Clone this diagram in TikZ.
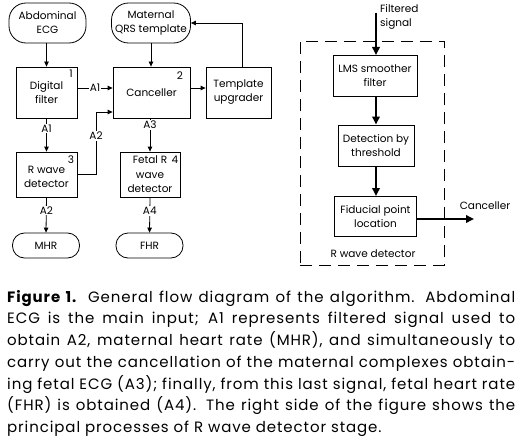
\documentclass[tikz,border=0pt]{standalone}
\usepackage{fontspec}
\setmainfont{Poppins}
\usetikzlibrary{arrows.meta,positioning}
\begin{document}
\begin{tikzpicture}[x=1pt,y=-1pt,
  every node/.style={font=\fontsize{10.5}{14}\selectfont},
  box/.style={draw,line width=0.8pt,align=center,inner sep=0pt},
  term/.style={draw,line width=0.8pt,align=center,inner sep=0pt},
  rbox/.style={draw,line width=1pt,align=center,inner sep=0pt},
  arr/.style={line width=0.8pt,-{Triangle[length=5pt,width=4.5pt]}},
  tarr/.style={line width=1.8pt,-{Triangle[length=8pt,width=7.5pt]}},
  lbl/.style={fill=white,inner sep=1pt},
  num/.style={inner sep=0pt}]
\useasboundingbox (0,0) rectangle (522,444);
% left diagram
\node[term,rounded corners=17pt,minimum width=77pt,minimum height=40pt] (abd) at (47.5,23) {Abdominal\\ECG};
\node[term,rounded corners=17pt,minimum width=79pt,minimum height=40pt] (qrs) at (151,23) {Maternal\\QRS template};
\node[box,minimum width=61pt,minimum height=51pt] (df) at (46.5,92.5) {Digital\\filter};
\node[box,minimum width=77pt,minimum height=51pt] (canc) at (151.5,92.5) {Canceller};
\node[box,minimum width=65pt,minimum height=51pt] (tu) at (238.5,92.5) {Template\\upgrader};
\node[box,minimum width=61pt,minimum height=45pt,label={[align=center,inner sep=0pt,yshift=-2pt]center:{R wave\\detector}}] (rwd) at (46.5,174.5) {};
\node[box,minimum width=60pt,minimum height=45pt,font=\fontsize{10.5}{14.5}\selectfont] (frwd) at (150,174.5) {Fetal R\\wave\\detector};
\node[term,rounded corners=12pt,minimum width=67pt,minimum height=25pt] (mhr) at (46,245.5) {MHR};
\node[term,rounded corners=12pt,minimum width=67pt,minimum height=25pt] (fhr) at (149.5,245.5) {FHR};
\node[num] (n1) at (71,74) {1};
\node[num] (n2) at (180,75.5) {2};
\node[num] (n3) at (71,160) {3};
\node[num] (n4) at (175,159.5) {4};
\draw[arr] (df.north |- abd.south) -- (df.north);
\draw[arr] (qrs.south) -- (qrs.south |- canc.north);
\draw[arr] ([yshift=4.5pt]df.east) -- node[lbl]{A1} ([yshift=4.5pt]canc.west);
\draw[arr] ([yshift=4.5pt]canc.east) -- ([yshift=4.5pt]tu.west);
\draw[arr] ([xshift=3.5pt]tu.north) |- (qrs.east);
\draw[arr] (df.south) -- node[lbl,pos=0.3]{A1} (rwd.north);
\coordinate (a2b) at (96,174.5);
\coordinate (a2t) at (96,112);
\draw[arr] (rwd.east) -- (a2b) -- node[lbl,pos=0.62]{A2} (a2t) -- (a2t -| canc.west);
\draw[arr] (frwd.north |- canc.south) -- node[lbl,pos=0.2]{A3} (frwd.north);
\draw[arr] (rwd.south) -- node[lbl,pos=0.37]{A2} (mhr.north);
\draw[arr] (frwd.south) -- node[lbl,pos=0.39]{A4} (fhr.north);
% right diagram
\node[draw,dash pattern=on 12pt off 7pt,line width=0.8pt,minimum width=144pt,minimum height=224pt,inner sep=0pt] (frame) at (372,153) {};
\node[align=left,anchor=west,inner sep=0pt] (fs) at (380,16.5) {Filtered\\signal};
\coordinate (fsin) at (376,13);
\node[rbox,minimum width=84pt,minimum height=41pt] (lms) at (375,76) {LMS smoother\\filter};
\node[rbox,minimum width=76pt,minimum height=41pt] (det) at (376,145.5) {Detection by\\threshold};
\node[rbox,minimum width=82pt,minimum height=40pt] (fid) at (375.5,216.5) {Fiducial point\\location};
\coordinate (cout) at (474,219);
\node (canctxt) at (485,206) {Canceller};
\node (rwdtxt) at (373,254) {R wave detector};
\draw[tarr] (fsin) -- (fsin |- lms.north);
\draw[tarr] (fsin |- lms.south) -- (fsin |- det.north);
\draw[tarr] (fsin |- det.south) -- (fsin |- fid.north);
\draw[tarr] (fid.east |- cout) -- (cout);
% caption
\node[anchor=north west,inner sep=0pt,align=left,font={\fontsize{15}{21.7}\selectfont\addfontfeature{LetterSpace=6}}] (cap) at (7,290) {%
\makebox[508pt][s]{\textbf{Figure 1.} General flow diagram of the algorithm. Abdominal}\\
\makebox[508pt][s]{ECG is the main input; A1 represents filtered signal used to}\\
\makebox[508pt][s]{obtain A2, maternal heart rate (MHR), and simultaneously to}\\
\makebox[508pt][s]{carry out the cancellation of the maternal complexes obtain-}\\
\makebox[508pt][s]{ing fetal ECG (A3); finally, from this last signal, fetal heart rate}\\
\makebox[508pt][s]{(FHR) is obtained (A4). The right side of the figure shows the}\\
principal processes of R wave detector stage.};
\end{tikzpicture}
\end{document}
